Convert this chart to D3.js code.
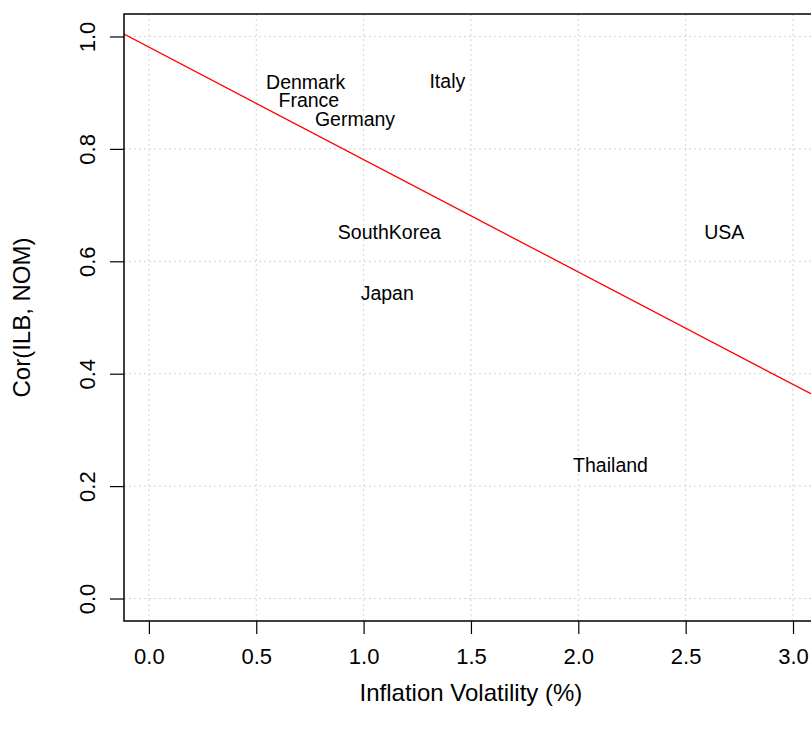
<!DOCTYPE html>
<html>
<head>
<meta charset="utf-8">
<script src="https://cdn.jsdelivr.net/npm/d3@7"></script>
<style>
  body { margin: 0; background: #fff; }
  svg { display: block; font-family: "Liberation Sans", Arial, sans-serif; }
</style>
</head>
<body>
<svg width="811" height="737"></svg>
<script>
const svg = d3.select("svg");

// country labels placed at (volatility, correlation)
const countries = ["Denmark", "France", "Germany", "Italy", "SouthKorea", "Japan", "USA", "Thailand"];
const volatility = [0.73, 0.745, 0.96, 1.39, 1.12, 1.11, 2.68, 2.15];
const correlation = [0.918, 0.886, 0.852, 0.920, 0.651, 0.544, 0.651, 0.237];

// fitted line: cor = intercept + slope * vol
const fitIntercept = 0.981;
const fitSlope = -0.2;

const xTicks = [0, 0.5, 1, 1.5, 2, 2.5, 3];
const yTicks = [0, 0.2, 0.4, 0.6, 0.8, 1.0];

// plot box (right edge runs off the picture like the original)
const plotLeft = 124, plotTop = 14, plotBottom = 621, plotRight = 860;

const x = d3.scaleLinear().domain([-0.116, 3.312]).range([plotLeft, plotRight]);
const y = d3.scaleLinear().domain([-0.04, 1.04]).range([plotBottom, plotTop]);

// grid
const grid = svg.append("g").attr("stroke", "#d3d3d3").attr("stroke-width", 1)
  .attr("stroke-dasharray", "2 3");
grid.selectAll(".gx").data(xTicks).enter().append("line")
  .attr("x1", d => x(d)).attr("x2", d => x(d))
  .attr("y1", plotTop).attr("y2", plotBottom);
grid.selectAll(".gy").data(yTicks).enter().append("line")
  .attr("x1", plotLeft).attr("x2", plotRight)
  .attr("y1", d => y(d)).attr("y2", d => y(d));

// regression line
svg.append("clipPath").attr("id", "plotclip")
  .append("rect").attr("x", plotLeft).attr("y", plotTop)
  .attr("width", plotRight - plotLeft).attr("height", plotBottom - plotTop);
const xd = x.domain();
svg.append("line")
  .attr("clip-path", "url(#plotclip)")
  .attr("x1", x(xd[0])).attr("y1", y(fitIntercept + fitSlope * xd[0]))
  .attr("x2", x(xd[1])).attr("y2", y(fitIntercept + fitSlope * xd[1]))
  .attr("stroke", "#ff0000").attr("stroke-width", 1.3);

// labels
svg.selectAll(".lab").data(countries).enter().append("text")
  .attr("x", (d, i) => x(volatility[i]))
  .attr("y", (d, i) => y(correlation[i]))
  .attr("dy", "0.35em")
  .attr("text-anchor", "middle")
  .attr("font-size", 19.5)
  .attr("fill", "#000")
  .text(d => d);

// box
svg.append("rect")
  .attr("x", plotLeft).attr("y", plotTop)
  .attr("width", plotRight - plotLeft).attr("height", plotBottom - plotTop)
  .attr("fill", "none").attr("stroke", "#000").attr("stroke-width", 1.5);

// x axis
const xAxis = d3.axisBottom(x).tickValues(xTicks).tickSize(13).tickPadding(14)
  .tickFormat(d3.format(".1f"));
const gx = svg.append("g").attr("transform", `translate(0,${plotBottom})`).call(xAxis);
gx.select(".domain").remove();
gx.selectAll("line").attr("stroke", "#000").attr("stroke-width", 1.2);
gx.selectAll("text").attr("font-size", 22).attr("fill", "#000")
  .attr("font-family", "Liberation Sans, Arial, sans-serif");

// y axis
const yAxis = d3.axisLeft(y).tickValues(yTicks).tickSize(14).tickFormat(d3.format(".1f"));
const gy = svg.append("g").attr("transform", `translate(${plotLeft},0)`).call(yAxis);
gy.select(".domain").remove();
gy.selectAll("line").attr("stroke", "#000").attr("stroke-width", 1.2);
gy.selectAll("text").remove();
gy.selectAll(".tick").append("text")
  .attr("transform", "translate(-37,0) rotate(-90)")
  .attr("text-anchor", "middle")
  .attr("dy", "0.35em")
  .attr("font-size", 22)
  .attr("fill", "#000")
  .attr("font-family", "Liberation Sans, Arial, sans-serif")
  .text(d => d3.format(".1f")(d));

// titles
svg.append("text")
  .attr("x", x(1.5)).attr("y", 701)
  .attr("text-anchor", "middle").attr("font-size", 24)
  .text("Inflation Volatility (%)");
svg.append("text")
  .attr("transform", `translate(30,${(plotTop + plotBottom) / 2}) rotate(-90)`)
  .attr("text-anchor", "middle").attr("font-size", 24)
  .text("Cor(ILB, NOM)");
</script>
</body>
</html>
